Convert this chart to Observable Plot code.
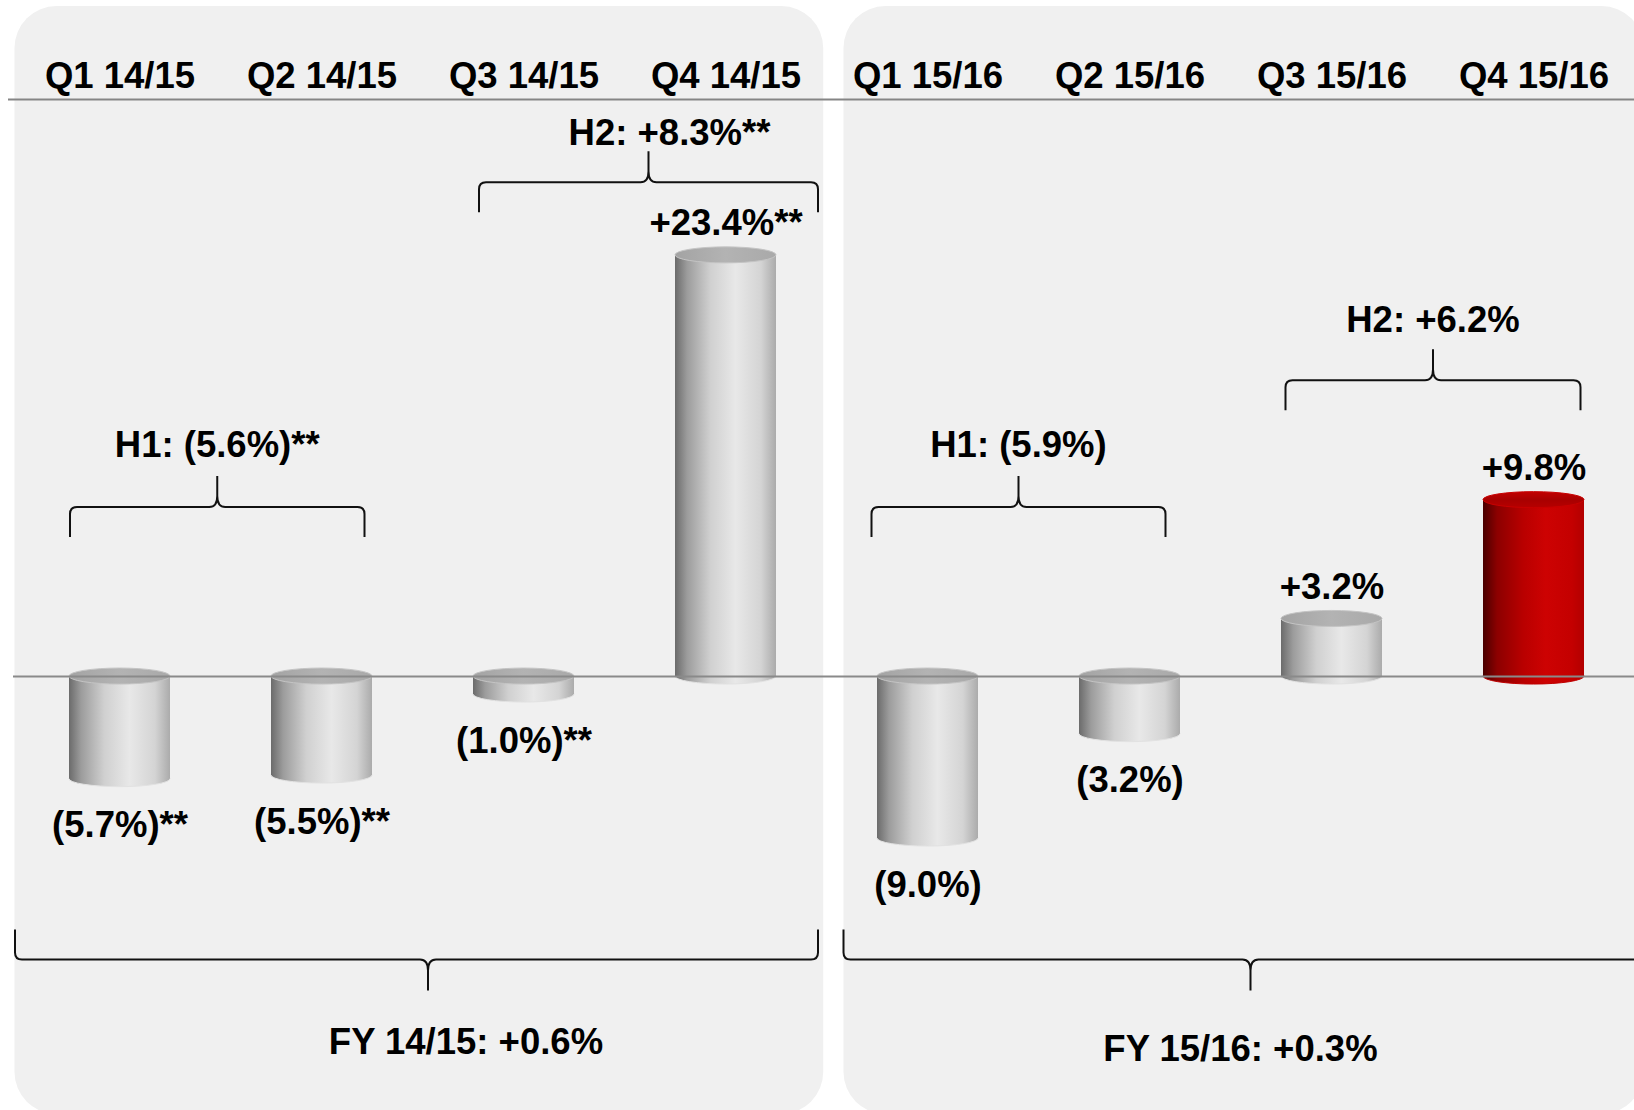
<!DOCTYPE html>
<html>
<head>
<meta charset="utf-8">
<script src="https://cdn.jsdelivr.net/npm/d3@7"></script>
<script src="https://cdn.jsdelivr.net/npm/@observablehq/plot@0.6"></script>
<style>
  html, body { margin: 0; padding: 0; background: #ffffff; }
  #chart svg { display: block; }
</style>
</head>
<body>
<svg width="0" height="0" style="position:absolute">
  <defs>
    <linearGradient id="gGray" x1="0" x2="1" y1="0" y2="0">
      <stop offset="0" stop-color="#6b6b6b"/>
      <stop offset="0.12" stop-color="#9c9c9c"/>
      <stop offset="0.35" stop-color="#d0d0d0"/>
      <stop offset="0.6" stop-color="#e8e8e8"/>
      <stop offset="0.85" stop-color="#d4d4d4"/>
      <stop offset="1" stop-color="#ababab"/>
    </linearGradient>
    <linearGradient id="gRed" x1="0" x2="1" y1="0" y2="0">
      <stop offset="0" stop-color="#4a0000"/>
      <stop offset="0.14" stop-color="#8c0000"/>
      <stop offset="0.4" stop-color="#b90000"/>
      <stop offset="0.62" stop-color="#cd0202"/>
      <stop offset="0.88" stop-color="#c40000"/>
      <stop offset="1" stop-color="#b20000"/>
    </linearGradient>
    <linearGradient id="gCapGray" x1="0" x2="1" y1="0" y2="0">
      <stop offset="0" stop-color="#a3a3a3"/>
      <stop offset="0.5" stop-color="#b3b3b3"/>
      <stop offset="1" stop-color="#a9a9a9"/>
    </linearGradient>
    <linearGradient id="gCapRed" x1="0" x2="0" y1="0" y2="1">
      <stop offset="0" stop-color="#c20000"/>
      <stop offset="0.5" stop-color="#a80000"/>
      <stop offset="1" stop-color="#b60000"/>
    </linearGradient>
  </defs>
</svg>
<div id="chart"></div>
<script>
// ---------- data ----------
const quarters = ["Q1 14/15", "Q2 14/15", "Q3 14/15", "Q4 14/15", "Q1 15/16", "Q2 15/16", "Q3 15/16", "Q4 15/16"];
const growth = [-5.7, -5.5, -1.0, 23.4, -9.0, -3.2, 3.2, 9.8];
const valueLabels = ["(5.7%)**", "(5.5%)**", "(1.0%)**", "+23.4%**", "(9.0%)", "(3.2%)", "+3.2%", "+9.8%"];
const highlighted = ["Q4 15/16"];

const halfLabels = ["H1: (5.6%)**", "H2: +8.3%**", "H1: (5.9%)", "H2: +6.2%"];
const halfFrom = ["Q1 14/15", "Q3 14/15", "Q1 15/16", "Q3 15/16"];
const halfTo = ["Q2 14/15", "Q4 14/15", "Q2 15/16", "Q4 15/16"];

const fyLabels = ["FY 14/15: +0.6%", "FY 15/16: +0.3%"];
const fyFrom = ["Q1 14/15", "Q1 15/16"];
const fyTo = ["Q4 14/15", "Q4 15/16"];

// ---------- layout / style (annotation placement) ----------
const FONT = '"Liberation Sans", Arial, Helvetica, sans-serif';
const FS = 36.5;
const W = 1634, H = 1110;
const yDomain = [-24.11, 32.06];
const panelLayout = [{left: -105, right: 97.7}, {left: -84, right: 110}];
const halfLayout = [
  {level: 9.39, left: -49.5, right: 43, tipDx: 0, textDx: 0, gap: 50},
  {level: 27.44, left: -44.5, right: 92.5, tipDx: 0, textDx: 21, gap: 37},
  {level: 9.39, left: -56, right: 36, tipDx: 0, textDx: 0, gap: 50},
  {level: 16.44, left: -46, right: 47, tipDx: 0, textDx: 0, gap: 48}
];
const fyLayout = [
  {level: -15.75, left: -104.5, right: 92.5, tipDx: 11.5, textDx: 38, gap: 94},
  {level: -15.75, left: -84, right: 114, tipDx: 5, textDx: -10, gap: 101}
];

const rows = quarters.map((q, i) => ({
  quarter: q, value: growth[i], label: valueLabels[i], red: highlighted.includes(q)
}));

function center(x, q) { return x(q) + x.bandwidth() / 2; }

function panelsMark(index, scales, values, dims) {
  const x = scales.x;
  const g = d3.create("svg:g");
  panelLayout.forEach((p, i) => {
    const x0 = center(x, fyFrom[i]) + p.left;
    const x1 = center(x, fyTo[i]) + p.right;
    g.append("rect")
      .attr("x", x0).attr("y", 6)
      .attr("width", x1 - x0).attr("height", dims.height - 2)
      .attr("rx", 42).attr("ry", 42)
      .attr("fill", "#f0f0f0");
  });
  return g.node();
}

function bottomEllipses(index, scales) {
  const x = scales.x, y = scales.y, rx = x.bandwidth() / 2;
  const g = d3.create("svg:g");
  rows.forEach(d => {
    const yb = y(Math.min(d.value, 0));
    g.append("ellipse")
      .attr("cx", x(d.quarter) + rx).attr("cy", yb)
      .attr("rx", rx).attr("ry", 8)
      .attr("fill", d.red ? "url(#gRed)" : "url(#gGray)")
      .attr("stroke", d.red ? "#c00000" : "#e2e2e2").attr("stroke-width", 1);
  });
  return g.node();
}

function topCaps(index, scales) {
  const x = scales.x, y = scales.y, rx = x.bandwidth() / 2;
  const g = d3.create("svg:g");
  rows.forEach(d => {
    const yt = y(Math.max(d.value, 0));
    g.append("ellipse")
      .attr("cx", x(d.quarter) + rx).attr("cy", yt)
      .attr("rx", rx).attr("ry", 8)
      .attr("fill", d.red ? "url(#gCapRed)" : "url(#gCapGray)")
      .attr("stroke", d.red ? "#c80000" : "#c4c4c4").attr("stroke-width", 1);
  });
  return g.node();
}

function bracePath(xL, xR, xm, y, s, d = 30, t = 31, r = 7) {
  return `M${xL},${y + s * d} L${xL},${y + s * r} Q${xL},${y} ${xL + r},${y} ` +
    `L${xm - 8},${y} Q${xm},${y} ${xm},${y - s * 11} L${xm},${y - s * t} ` +
    `M${xm},${y - s * 11} Q${xm},${y} ${xm + 8},${y} ` +
    `L${xR - r},${y} Q${xR},${y} ${xR},${y + s * r} L${xR},${y + s * d}`;
}

function bracketsMark(index, scales) {
  const x = scales.x, y = scales.y;
  const g = d3.create("svg:g");
  const draw = (labels, from, to, layout, s) => {
    labels.forEach((lab, i) => {
      const L = layout[i];
      const xL = center(x, from[i]) + L.left;
      const xR = center(x, to[i]) + L.right;
      const xm = (xL + xR) / 2 + L.tipDx;
      const yy = y(L.level);
      g.append("path")
        .attr("d", bracePath(xL, xR, xm, yy, s))
        .attr("fill", "none").attr("stroke", "#111").attr("stroke-width", 2)
        .attr("stroke-linejoin", "round");
      g.append("text")
        .attr("x", xm + L.textDx).attr("y", yy - s * L.gap)
        .attr("text-anchor", "middle")
        .attr("font-family", FONT).attr("font-size", FS).attr("font-weight", "bold")
        .attr("fill", "#000")
        .text(lab);
    });
  };
  draw(halfLabels, halfFrom, halfTo, halfLayout, 1);
  draw(fyLabels, fyFrom, fyTo, fyLayout, -1);
  return g.node();
}

const textStyle = {fontSize: FS, fontWeight: "bold", fill: "#000", lineAnchor: "bottom"};

const chart = Plot.plot({
  width: W, height: H,
  marginTop: 99, marginBottom: 0, marginLeft: 8, marginRight: 0,
  style: {fontFamily: FONT, fontSize: FS + "px", fontWeight: "bold", background: "transparent", overflow: "visible", color: "#000"},
  x: {domain: quarters, range: [16.2, 1636.8], paddingInner: 0.5, paddingOuter: 0.25, axis: null, label: null},
  y: {domain: yDomain, axis: null},
  marks: [
    panelsMark,
    Plot.axisX({anchor: "top", tickSize: 0, tickPadding: 12, fontSize: FS, fontWeight: "bold", label: null, fill: "#000"}),
    Plot.ruleY([yDomain[1]], {stroke: "#858585", strokeWidth: 2}),
    bottomEllipses,
    Plot.barY(rows, {x: "quarter", y: "value", fill: d => d.red ? "url(#gRed)" : "url(#gGray)"}),
    topCaps,
    Plot.ruleY([0], {stroke: "#8a8a8a", strokeWidth: 2, insetLeft: 5}),
    Plot.text(rows.filter(d => d.value < 0), {x: "quarter", y: "value", text: "label", dy: 58, ...textStyle}),
    Plot.text(rows.filter(d => d.value >= 0), {x: "quarter", y: "value", text: "label", dy: -20, ...textStyle}),
    bracketsMark
  ]
});
document.getElementById("chart").appendChild(chart);
</script>
</body>
</html>
